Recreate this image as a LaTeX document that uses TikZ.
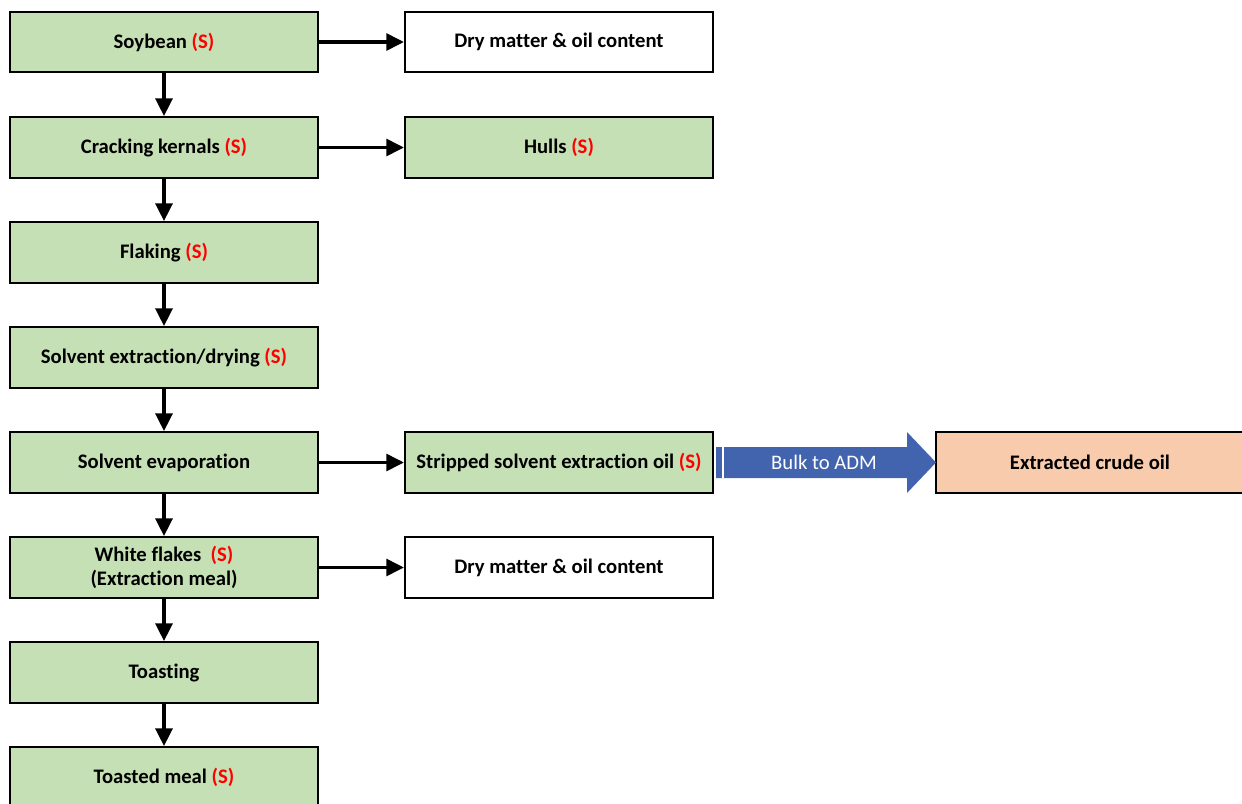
\documentclass[tikz,border=0pt]{standalone}
\usepackage{fontspec}
\setmainfont[Ligatures=NoCommon]{Carlito}
\usetikzlibrary{arrows.meta}
\definecolor{stepgreen}{HTML}{C5E0B4}
\definecolor{oilpeach}{HTML}{F8CBAD}
\definecolor{bulkblue}{HTML}{4264AE}
\definecolor{markred}{HTML}{FF0000}
\newcommand{\smark}{\textcolor{markred}{(S)}}
\tikzset{
  stepbox/.style={rectangle, draw=black, line width=1.5pt, fill=stepgreen,
    minimum width=7.7cm, minimum height=1.52cm, align=center,
    font=\fontsize{14.7}{17}\selectfont\bfseries},
  infobox/.style={stepbox, fill=white},
  oilbox/.style={stepbox, fill=oilpeach},
  flow/.style={-{Triangle[length=12.5pt, width=12pt]}, line width=2.3pt}
}
\begin{document}
\begin{tikzpicture}[x=0.025cm, y=-0.025cm]
  \useasboundingbox (0,0) rectangle (1242,803);
  % Main process column
  \node[stepbox] (soy) at (164,42) {Soybean \smark};
  \node[stepbox] (crack) at (164,147.5) {Cracking kernals \smark};
  \node[stepbox] (flake) at (164,252.5) {Flaking \smark};
  \node[stepbox] (extract) at (164,357.5) {Solvent extraction/drying \smark};
  \node[stepbox] (evap) at (164,462.5) {Solvent evaporation};
  \node[stepbox] (white) at (164,567.5) {White flakes\ \ \smark\\(Extraction meal)};
  \node[stepbox] (toast) at (164,672.5) {Toasting};
  \node[stepbox] (meal) at (164,777.5) {Toasted meal \smark};

  % Side products
  \node[infobox] (drysoy) at (559,42) {Dry matter \& oil content};
  \node[stepbox] (hulls) at (559,147.5) {Hulls \smark};
  \node[stepbox] (strip) at (559,462.5) {Stripped solvent extraction oil \smark};
  \node[infobox] (drywhite) at (559,567.5) {Dry matter \& oil content};
  \node[oilbox] (crude) at (1090,462.5) {Extracted crude oil};

  \draw[flow] (soy) -- (crack);
  \draw[flow] (crack) -- (flake);
  \draw[flow] (flake) -- (extract);
  \draw[flow] (extract) -- (evap);
  \draw[flow] (evap) -- (white);
  \draw[flow] (white) -- (toast);
  \draw[flow] (toast) -- (meal);

  \draw[flow] (soy) -- (drysoy);
  \draw[flow] (crack) -- (hulls);
  \draw[flow] (evap) -- (strip);
  \draw[flow] (white) -- (drywhite);

  % Bulk transfer arrow
  \fill[bulkblue] (716,447) -- (907,447) -- (907,432) -- (936,462.5)
    -- (907,493) -- (907,478) -- (716,478) -- cycle;
  \draw[white, line width=1pt] (723,447) -- (723,478);
  \node[text=white, font=\fontsize{14.7}{17}\selectfont] (bulk) at (824,462) {Bulk to ADM};
\end{tikzpicture}
\end{document}
